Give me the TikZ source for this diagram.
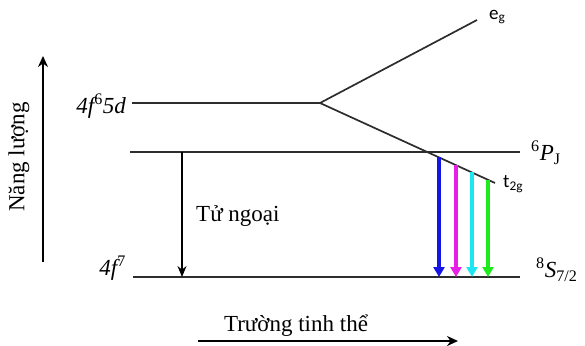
\documentclass[tikz,border=0pt]{standalone}
\usepackage{fontspec}
\setmainfont{Liberation Serif}
\newfontfamily\calfont{Carlito}
\usetikzlibrary{arrows.meta}
\definecolor{lvl}{RGB}{45,45,45}
\definecolor{vgreen}{RGB}{30,235,30}
\definecolor{vcyan}{RGB}{30,230,240}
\definecolor{vmag}{RGB}{230,30,230}
\definecolor{vblue}{RGB}{20,20,230}
\tikzset{
  level/.style={draw=lvl, line width=1.7pt},
  axisarrow/.style={draw=black, line width=2.4pt, -{Stealth[length=11pt,width=10pt]}},
  uvarrow/.style={draw=black, line width=1.5pt, -{Stealth[length=11pt,width=9pt]}},
  emit/.style={line width=3.4pt, -{Triangle[length=10pt,width=11pt]}},
  lab/.style={inner sep=0pt, font=\fontsize{23}{27}\selectfont},
  smlab/.style={inner sep=0pt, font=\calfont\fontsize{19}{22}\selectfont}
}
\begin{document}
\begin{tikzpicture}[x=1pt,y=-1pt]
\useasboundingbox (0,0) rectangle (585,345);
% coordinates
\coordinate (d1) at (132,103);
\coordinate (br) at (320,103);
\coordinate (eg) at (477,20);
\coordinate (t2) at (495,183);
\coordinate (p1) at (130,152);
\coordinate (p2) at (520,152);
\coordinate (s1) at (133,277);
\coordinate (s2) at (520,277);
% levels
\draw[level] (d1) -- (br);
\draw[level] (br) -- (eg);
\draw[level] (br) -- (t2);
\draw[level] (p1) -- (p2);
\draw[level] (s1) -- (s2);
% UV arrow
\coordinate (uvtop) at (182,152);
\coordinate (uvbot) at (182,277);
\draw[uvarrow] (uvtop) -- (uvbot);
\node[lab, anchor=west] (uv) at (196,216) {Tử ngoại};
% emission arrows
\foreach \x/\c/\n in {439/vblue/b, 456/vmag/m, 472/vcyan/c, 488/vgreen/g}{
  \pgfmathsetmacro{\ys}{103+(\x-320)*80/175}
  \coordinate (e\n t) at (\x,\ys);
  \coordinate (e\n b) at (\x,277);
  \draw[emit, draw=\c, color=\c] (e\n t) -- (e\n b);
}
% labels
\node[lab, anchor=east] (l5d) at (126,106) {\itshape 4f\textsuperscript{\upshape 6}5d};
\node[lab, anchor=east] (l4f) at (126,268) {\itshape 4f\textsuperscript{\upshape 7}};
\node[smlab, anchor=west] (leg) at (489,17) {e\textsubscript{g}};
\node[smlab, anchor=west] (lt2g) at (503,184) {t\textsubscript{2g}};
\node[lab, anchor=west] (lpj) at (531,153) {\textsuperscript{6}\textit{P}\textsubscript{J}};
\node[lab, anchor=west] (lsj) at (536,270) {\textsuperscript{8}\textit{S}\textsubscript{7/2}};
% energy axis
\coordinate (ya) at (43,262);
\coordinate (yb) at (43,56);
\draw[axisarrow] (ya) -- (yb);
\node[lab, rotate=90] (lnl) at (19,157) {Năng lượng};
% crystal field axis
\coordinate (xa) at (198,341);
\coordinate (xb) at (458,341);
\draw[axisarrow] (xa) -- (xb);
\node[lab] (ltt) at (296,326) {Trường tinh thể};
\end{tikzpicture}
\end{document}
